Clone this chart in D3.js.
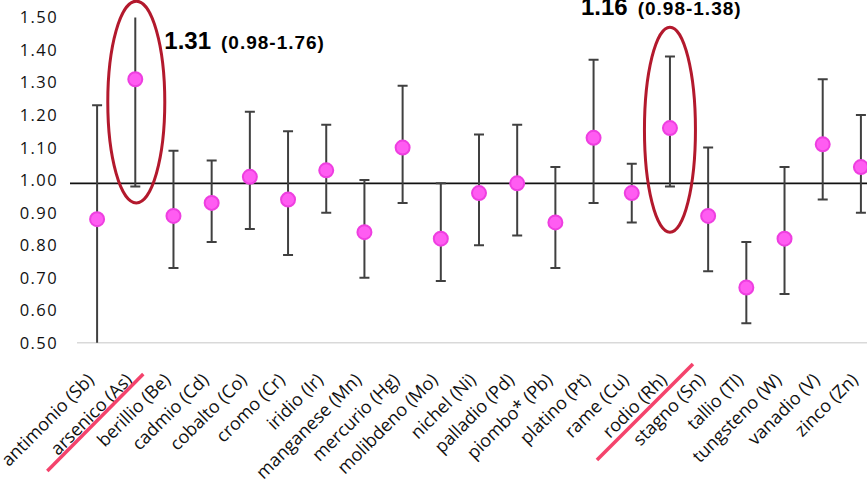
<!DOCTYPE html>
<html>
<head>
	<title>Metalli - rischio relativo</title>
	<script type="text/javascript" src="https://d3js.org/d3.v7.min.js"></script>
	<style>
		body{ margin: 0; background: #fff; }
		.chart text{ font-family: "Open Sans", sans-serif; fill: #111; }
		.chart .ytick{ font-size: 16.5px; letter-spacing: 1.4px; text-anchor: end; }
		.chart .xlab{ font-size: 18px; text-anchor: end; }
		.chart .note{ font-family: "Liberation Sans", Arial, sans-serif; font-weight: bold; fill: #000; }
	</style>
</head>
<body>
<svg class="chart"></svg>

<script type="text/javascript">
// categories and values
var metals = ["antimonio (Sb)", "arsenico (As)", "berillio (Be)", "cadmio (Cd)", "cobalto (Co)",
	"cromo (Cr)", "iridio (Ir)", "manganese (Mn)", "mercurio (Hg)", "molibdeno (Mo)", "nichel (Ni)",
	"palladio (Pd)", "piombo* (Pb)", "platino (Pt)", "rame (Cu)", "rodio (Rh)", "stagno (Sn)",
	"tallio (Tl)", "tungsteno (W)", "vanadio (V)", "zinco (Zn)"];
var estimate = [0.88, 1.31, 0.89, 0.93, 1.01, 0.94, 1.03, 0.84, 1.10, 0.82, 0.96,
	0.99, 0.87, 1.13, 0.96, 1.16, 0.89, 0.67, 0.82, 1.11, 1.04];
var lower = [0.40, 0.98, 0.73, 0.81, 0.85, 0.77, 0.90, 0.70, 0.93, 0.69, 0.80,
	0.83, 0.73, 0.93, 0.87, 0.98, 0.72, 0.56, 0.65, 0.94, 0.90];
var upper = [1.23, 1.76, 1.09, 1.06, 1.21, 1.15, 1.17, 1.00, 1.29, 0.99, 1.14,
	1.17, 1.04, 1.37, 1.05, 1.38, 1.10, 0.81, 1.04, 1.31, 1.20];
var yTicks = [0.5, 0.6, 0.7, 0.8, 0.9, 1.0, 1.1, 1.2, 1.3, 1.4, 1.5];
var refValue = 0.99;

// highlighted metals: ellipse (value span) and label text
var highlight = ["arsenico (As)", "rodio (Rh)"];
var hlTop = [1.55, 1.47];
var hlBottom = [0.93, 0.84];

var width = 867, height = 486;
var svg = d3.select(".chart").attr("width", width).attr("height", height);

var x = d3.scaleBand().domain(metals).range([78, 880]);
var y = d3.scaleLinear().domain([0.5, 1.5]).range([342.8, 17.4]);
var cx = function(m){ return x(m) + x.bandwidth() / 2; };
var f2 = d3.format(".2f");

svg.append("clipPath").attr("id", "plot")
  .append("rect").attr("x", 70).attr("y", y(1.5)).attr("width", 820).attr("height", y(0.5) - y(1.5));

// y tick labels (no axis line)
svg.selectAll(".ytick")
	.data(yTicks)
  .enter().append("text")
	.attr("class", "ytick")
	.attr("x", 58)
	.attr("y", y)
	.attr("dy", ".36em")
	.text(f2);

// baseline
svg.append("line")
	.attr("x1", 77).attr("x2", width)
	.attr("y1", y(0.5)).attr("y2", y(0.5))
	.attr("stroke", "#d9d9d9").attr("stroke-width", 1.5);

// reference line
svg.append("line")
	.attr("x1", 70).attr("x2", width)
	.attr("y1", y(refValue)).attr("y2", y(refValue))
	.attr("stroke", "#111").attr("stroke-width", 1.6);

// error bars
var bars = svg.append("g").attr("clip-path", "url(#plot)")
	.selectAll("g")
	.data(metals)
  .enter().append("g")
	.attr("stroke", "#404040").attr("stroke-width", 2);

bars.append("line")
	.attr("x1", cx).attr("x2", cx)
	.attr("y1", function(d, i){ return y(upper[i]); })
	.attr("y2", function(d, i){ return y(lower[i]); });
bars.append("line")
	.attr("x1", function(d){ return cx(d) - 5; }).attr("x2", function(d){ return cx(d) + 5; })
	.attr("y1", function(d, i){ return y(upper[i]); })
	.attr("y2", function(d, i){ return y(upper[i]); });
bars.append("line")
	.attr("x1", function(d){ return cx(d) - 5; }).attr("x2", function(d){ return cx(d) + 5; })
	.attr("y1", function(d, i){ return y(lower[i]); })
	.attr("y2", function(d, i){ return y(lower[i]); });

// points
svg.selectAll(".pt")
	.data(metals)
  .enter().append("circle")
	.attr("class", "pt")
	.attr("cx", cx)
	.attr("cy", function(d, i){ return y(estimate[i]); })
	.attr("r", 7)
	.attr("fill", "#ff5cf2")
	.attr("stroke", "#ee3fe0")
	.attr("stroke-width", 2);

// x labels
svg.selectAll(".xlab")
	.data(metals)
  .enter().append("text")
	.attr("class", "xlab")
	.attr("transform", function(d){ return "translate(" + (cx(d) - 2) + ",381) rotate(-45)"; })
	.text(function(d){ return d; });

// highlights
highlight.forEach(function(m, k){
	var i = metals.indexOf(m);
	var yt = y(hlTop[k]), yb = y(hlBottom[k]);
	svg.append("ellipse")
		.attr("cx", cx(m) + (k === 0 ? 1 : 0))
		.attr("cy", (yt + yb) / 2)
		.attr("rx", k === 0 ? 28.5 : 25.5)
		.attr("ry", (yb - yt) / 2)
		.attr("fill", "none")
		.attr("stroke", "#b3192d")
		.attr("stroke-width", 3);

	// strike under the label
	var sx = cx(m);
	svg.append("line")
		.attr("x1", sx + (k === 0 ? -88 : -73)).attr("y1", k === 0 ? 471 : 460)
		.attr("x2", sx + (k === 0 ? 8 : 23)).attr("y2", k === 0 ? 374 : 364)
		.attr("stroke", "#f4436c").attr("stroke-width", 3.5);

	var t = svg.append("text").attr("class", "note")
		.attr("x", k === 0 ? sx + 29 : sx - 89)
		.attr("y", k === 0 ? 49 : 15);
	t.append("tspan").attr("font-size", 24).text(f2(estimate[i]));
	t.append("tspan").attr("font-size", 19).attr("dx", 10).attr("letter-spacing", 1)
		.text("(" + f2(lower[i]) + "-" + f2(upper[i]) + ")");
});
</script>
</body>
</html>
